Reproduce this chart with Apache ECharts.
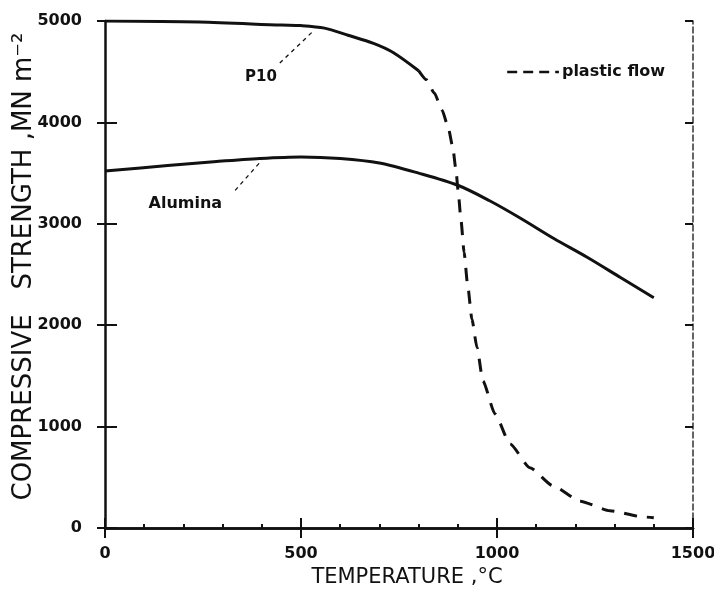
<!DOCTYPE html>
<html>
<head>
<meta charset="utf-8">
<script src="https://cdn.jsdelivr.net/npm/echarts@6/dist/echarts.min.js"></script>
<style>
  html, body { margin: 0; padding: 0; background: #fff; }
  #chart { width: 714px; height: 592px; }
</style>
</head>
<body>
<div id="chart"></div>
<script>
// values
var p10Temp = [0, 240, 450, 500, 560, 620, 685, 735, 800];
var p10Strength = [5000, 4990, 4960, 4955, 4930, 4860, 4780, 4690, 4510];

var flowTemp = [800, 820, 840, 860, 875, 887, 895, 901, 908, 916, 925, 936, 949, 964, 995, 1033, 1084, 1143, 1212, 1288, 1372, 1400];
var flowStrength = [4510, 4420, 4290, 4120, 3960, 3760, 3540, 3320, 3040, 2720, 2400, 2060, 1780, 1450, 1125, 830, 595, 415, 265, 170, 110, 100];

var aluminaTemp = [0, 160, 285, 395, 500, 600, 700, 800, 900, 980, 1060, 1145, 1230, 1315, 1400];
var aluminaStrength = [3520, 3575, 3615, 3645, 3660, 3645, 3600, 3500, 3380, 3230, 3055, 2855, 2670, 2470, 2270];

var xTicks = [0, 500, 1000, 1500];
var yTicks = [0, 1000, 2000, 3000, 4000, 5000];

// annotation anchors (data space)
var p10Leader = [[446, 4585], [531, 4900]];
var aluminaLeader = [[332, 3330], [400, 3626]];
var p10LabelAt = [398, 4447];
var aluminaLabelAt = [205, 3192];
var flowKey = [[1026, 4496], [1158, 4496]];

function pairs(xs, ys) {
  return xs.map(function(x, i) { return [x, ys[i]]; });
}

function plain(v) {
  return String(v);
}

var ink = "#111";
var labelFont = { fontFamily: "DejaVu Sans", fontWeight: "bold", color: ink, textBorderWidth: 0, opacity: 1 };
var chart = echarts.init(document.getElementById("chart"));

chart.setOption({
  animation: false,
  backgroundColor: "#ffffff",
  grid: { left: 105, right: 21, top: 21, bottom: 64, containLabel: false, outerBoundsMode: "none" },
  xAxis: [
    {
      type: "value",
      min: xTicks[0],
      max: xTicks[xTicks.length - 1],
      interval: 500,
      position: "bottom",
      name: "TEMPERATURE ,°C",
      nameLocation: "middle",
      nameGap: 39,
      nameMoveOverlap: false,
      nameTextStyle: { fontFamily: "DejaVu Sans", fontSize: 21, color: ink, padding: [0, 0, 0, 16] },
      axisLine: { lineStyle: { color: ink, width: 2.5 } },
      axisTick: { inside: true, length: 10, lineStyle: { color: ink, width: 2 } },
      minorTick: { show: true, splitNumber: 5, length: 4, lineStyle: { color: ink, width: 2 } },
      axisLabel: { margin: 18, fontFamily: "DejaVu Sans", fontWeight: "bold", fontSize: 16, color: ink, formatter: plain },
      splitLine: { show: false }
    },
    {
      type: "value",
      min: 0,
      max: 1500,
      interval: 500,
      position: "top",
      axisLine: { lineStyle: { color: ink, width: 2.5 } },
      axisTick: { inside: true, length: 10, lineStyle: { color: ink, width: 2 } },
      axisLabel: { show: false },
      splitLine: { show: false }
    }
  ],
  yAxis: [
    {
      type: "value",
      min: yTicks[0],
      max: yTicks[yTicks.length - 1],
      interval: 1000,
      position: "left",
      name: "COMPRESSIVE   STRENGTH ,MN m⁻²",
      nameLocation: "middle",
      nameGap: 68,
      nameMoveOverlap: false,
      nameTextStyle: { fontFamily: "DejaVu Sans", fontSize: 26, color: ink, padding: [0, 0, 0, 16] },
      axisLine: { lineStyle: { color: ink, width: 2.5 } },
      axisTick: { inside: false, length: 8, lineStyle: { color: ink, width: 2 } },
      axisLabel: { margin: 23, fontFamily: "DejaVu Sans", fontWeight: "bold", fontSize: 16, color: ink, formatter: plain },
      splitLine: { show: false }
    },
    {
      type: "value",
      min: 0,
      max: 5000,
      interval: 1000,
      position: "left",
      axisLine: { show: false },
      axisTick: { inside: true, length: 12, lineStyle: { color: ink, width: 2 } },
      axisLabel: { show: false },
      splitLine: { show: false }
    },
    {
      type: "value",
      min: 0,
      max: 5000,
      interval: 1000,
      position: "right",
      axisLine: { lineStyle: { color: "#333", width: 1.5, type: [6, 3] } },
      axisTick: { inside: true, length: 8, lineStyle: { color: ink, width: 2 } },
      axisLabel: { show: false },
      splitLine: { show: false }
    }
  ],
  series: [
    {
      name: "P10",
      type: "line",
      data: pairs(p10Temp, p10Strength),
      smooth: 0.3,
      showSymbol: false,
      lineStyle: { color: ink, width: 3 }
    },
    {
      name: "plastic flow",
      type: "line",
      data: pairs(flowTemp, flowStrength),
      smooth: 0.2,
      smoothMonotone: "x",
      showSymbol: false,
      lineStyle: { color: ink, width: 3, type: [13, 10], cap: "butt" }
    },
    {
      name: "Alumina",
      type: "line",
      data: pairs(aluminaTemp, aluminaStrength),
      smooth: 0.3,
      showSymbol: false,
      lineStyle: { color: ink, width: 3 }
    },
    {
      type: "line",
      data: p10Leader,
      showSymbol: false,
      lineStyle: { color: ink, width: 1.3, type: [4, 4] }
    },
    {
      type: "line",
      data: aluminaLeader,
      showSymbol: false,
      lineStyle: { color: ink, width: 1.3, type: [4, 4] }
    },
    {
      type: "line",
      data: flowKey,
      showSymbol: false,
      lineStyle: { color: ink, width: 2.5, type: [10, 6] },
      endLabel: Object.assign({ show: true, formatter: "plastic flow", distance: 3, fontSize: 16 }, labelFont)
    },
    {
      type: "scatter",
      symbolSize: 0,
      itemStyle: { opacity: 1 },
      data: [p10LabelAt],
      label: Object.assign({ show: true, position: "inside", formatter: "P10", fontSize: 15 }, labelFont)
    },
    {
      type: "scatter",
      symbolSize: 0,
      itemStyle: { opacity: 1 },
      data: [aluminaLabelAt],
      label: Object.assign({ show: true, position: "inside", formatter: "Alumina", fontSize: 16 }, labelFont)
    }
  ]
});
</script>
</body>
</html>
